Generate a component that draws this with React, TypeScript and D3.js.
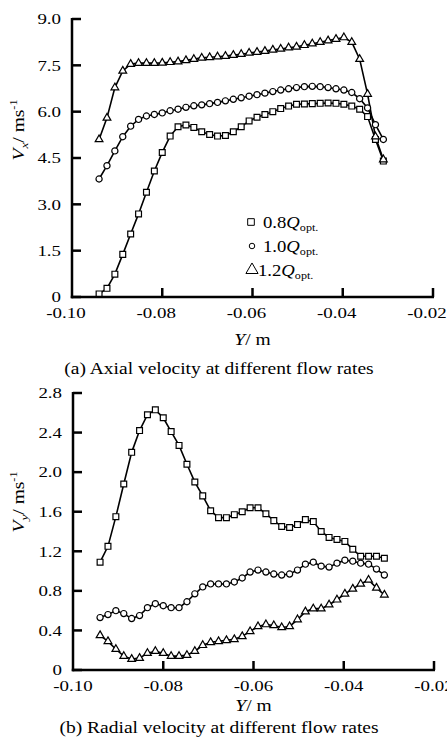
import React from 'react';
import * as d3 from 'd3';

// Radial position Y (m), shared by all series
const positionY = [
  -0.094, -0.09225, -0.0905, -0.08875, -0.087, -0.08525, -0.0835, -0.08175, -0.08, -0.07825,
  -0.0765, -0.07475, -0.073, -0.07125, -0.0695, -0.06775, -0.066, -0.06425, -0.0625, -0.06075,
  -0.059, -0.05725, -0.0555, -0.05375, -0.052, -0.05025, -0.0485, -0.04675, -0.045, -0.04325,
  -0.0415, -0.03975, -0.038, -0.03625, -0.0345, -0.03275, -0.031,
];

// (a) Axial velocity Vx (m/s)
const axial08 = [
  0.1, 0.28, 0.74, 1.38, 2.04, 2.69, 3.39, 4.08, 4.68, 5.21,
  5.51, 5.57, 5.49, 5.35, 5.26, 5.21, 5.23, 5.35, 5.51, 5.7,
  5.82, 5.91, 6.0, 6.1, 6.18, 6.24, 6.25, 6.26, 6.27, 6.28,
  6.27, 6.24, 6.18, 6.08, 5.84, 5.1, 4.4,
];
const axial10 = [
  3.82, 4.25, 4.73, 5.19, 5.53, 5.75, 5.86, 5.91, 5.96, 6.03,
  6.08, 6.14, 6.19, 6.22, 6.26, 6.3, 6.35, 6.4, 6.45, 6.5,
  6.55, 6.6, 6.65, 6.7, 6.74, 6.78, 6.81, 6.82, 6.81, 6.78,
  6.74, 6.7, 6.62, 6.42, 6.12, 5.58, 5.1,
];
const axial12 = [
  5.1, 5.8, 6.78, 7.32, 7.54, 7.57, 7.57, 7.57, 7.58, 7.6,
  7.62, 7.66, 7.7, 7.74, 7.76, 7.78, 7.8, 7.83, 7.86, 7.9,
  7.93, 7.96, 8.0, 8.03, 8.07, 8.1, 8.15, 8.2, 8.25, 8.3,
  8.35, 8.4, 8.25, 7.7, 6.57, 5.19, 4.45,
];

// (b) Radial velocity (m/s)
const radial08 = [
  1.09, 1.25, 1.55, 1.88, 2.2, 2.42, 2.58, 2.63, 2.55, 2.41,
  2.27, 2.08, 1.9, 1.76, 1.61, 1.54, 1.54, 1.57, 1.6, 1.64,
  1.64, 1.58, 1.51, 1.45, 1.44, 1.47, 1.52, 1.5, 1.4, 1.34,
  1.32, 1.3, 1.22, 1.15, 1.15, 1.15, 1.13,
];
const radial10 = [
  0.53, 0.56, 0.6, 0.57, 0.52, 0.55, 0.63, 0.67, 0.65, 0.63,
  0.63, 0.69, 0.77, 0.84, 0.87, 0.87, 0.87, 0.89, 0.93, 0.99,
  1.01, 0.99, 0.97, 0.96, 0.97, 1.01, 1.07, 1.09, 1.05, 1.04,
  1.08, 1.11, 1.1, 1.08, 1.07, 1.02, 0.96,
];
const radial12 = [
  0.35, 0.29, 0.21, 0.14, 0.11, 0.12, 0.17, 0.19, 0.17, 0.14,
  0.14, 0.15, 0.19, 0.25, 0.28, 0.29, 0.3, 0.31, 0.34, 0.39,
  0.44, 0.46, 0.45, 0.43, 0.44, 0.51, 0.59, 0.62, 0.62, 0.66,
  0.71, 0.77, 0.82, 0.87, 0.91, 0.83, 0.76,
];

const xTicks = [-0.1, -0.08, -0.06, -0.04, -0.02];
const xTickLabels = ['-0.10', '-0.08', '-0.06', '-0.04', '-0.02'];
const axialTicks = [0, 1.5, 3.0, 4.5, 6.0, 7.5, 9.0];
const axialTickLabels = ['0', '1.5', '3.0', '4.5', '6.0', '7.5', '9.0'];
const radialTicks = [0, 0.4, 0.8, 1.2, 1.6, 2.0, 2.4, 2.8];
const radialTickLabels = ['0', '0.4', '0.8', '1.2', '1.6', '2.0', '2.4', '2.8'];
const legendLabels = ['0.8', '1.0', '1.2'];
const symbolTypes = [d3.symbolSquare, d3.symbolCircle, d3.symbolTriangle];
const symbolSizes = [34, 30, 26];

const FONT = "'Liberation Serif', 'Times New Roman', serif";
const SX = 1.22;

function T(props: {
  x: number;
  y: number;
  anchor?: string;
  size?: number;
  rotate?: boolean;
  sx?: number;
  children: React.ReactNode;
}) {
  const { x, y, anchor = 'start', size = 16, rotate = false, sx = SX, children } = props;
  return (
    <text
      transform={`translate(${x},${y})${rotate ? ' rotate(-90)' : ''} scale(${sx},1)`}
      textAnchor={anchor}
      fontSize={size}
      fontFamily={FONT}
      fill="#000"
    >
      {children}
    </text>
  );
}

type PanelProps = {
  series: number[][];
  yMax: number;
  yTicks: number[];
  yTickLabels: string[];
  left: number;
  right: number;
  top: number;
  bottom: number;
  sub: string;
  caption: string;
  titleY: number;
  offs: [number, number, number];
  labelDx: number;
  legend?: boolean;
};

function Panel(p: PanelProps) {
  const x = d3.scaleLinear().domain([-0.1, -0.02]).range([p.left, p.right]);
  const y = d3.scaleLinear().domain([0, p.yMax]).range([p.bottom, p.top]);
  const line = d3.line<[number, number]>().x((d) => x(d[0])).y((d) => y(d[1]));
  const sym = (i: number) => d3.symbol(symbolTypes[i], symbolSizes[i])() as string;
  const cx = (p.left + p.right) / 2;
  return (
    <g>
      {p.series.map((s, i) => (
        <path key={'l' + i} d={line(s.map((v, j) => [positionY[j], v]))!} fill="none" stroke="#000" strokeWidth={1.6} />
      ))}
      {p.series.map((s, i) => (
        <g key={'m' + i}>
          {s.map((v, j) => (
            <path key={j} d={sym(i)} transform={`translate(${x(positionY[j])},${y(v)})`} fill="#fff" stroke="#000" strokeWidth={1.2} />
          ))}
        </g>
      ))}
      <line x1={p.left} x2={p.left} y1={p.top - 1} y2={p.bottom + 1.25} stroke="#000" strokeWidth={2.5} />
      <line x1={p.left - 1.25} x2={p.right + 1} y1={p.bottom} y2={p.bottom} stroke="#000" strokeWidth={2.5} />
      {p.yTicks.map((t, i) => (
        <g key={'yt' + i}>
          <line x1={p.left} x2={p.left + 9} y1={y(t)} y2={y(t)} stroke="#000" strokeWidth={2.5} />
          <T x={p.left - 11} y={y(t) + 5.3} anchor="end" size={15.5}>{p.yTickLabels[i]}</T>
        </g>
      ))}
      {xTicks.map((t, i) => (
        <g key={'xt' + i}>
          {i > 0 && <line x1={x(t)} x2={x(t)} y1={p.bottom} y2={p.bottom - 9} stroke="#000" strokeWidth={2.5} />}
          <T x={x(t) + p.labelDx} y={p.bottom + p.offs[0]} anchor="middle" size={15.5}>{xTickLabels[i]}</T>
        </g>
      ))}
      <T x={cx} y={p.bottom + p.offs[1]} anchor="middle" size={16}>
        <tspan fontStyle="italic">Y</tspan>/ m
      </T>
      <T x={219} y={p.bottom + p.offs[2]} anchor="middle" size={16}>{p.caption}</T>
      <T x={24} y={p.titleY} anchor="middle" size={16} rotate>
        <tspan fontStyle="italic">V</tspan>
        <tspan fontStyle="italic" fontSize={11} dy={4}>{p.sub}</tspan>
        <tspan dy={-4}>/ ms</tspan>
        <tspan fontSize={10} dy={-7}>-1</tspan>
      </T>
      {p.legend &&
        legendLabels.map((lab, i) => {
          const ly = 222 + i * 24;
          return (
            <g key={'lg' + i}>
              <path d={d3.symbol(symbolTypes[i], [44, 24, 64][i])() as string} transform={`translate(${[251, 252, 252][i]},${ly})`} fill="#fff" stroke="#000" strokeWidth={1} />
              <T x={i === 2 ? 258 : 263} y={ly + 6} size={17} sx={1.1}>
                {lab}
                <tspan fontStyle="italic">Q</tspan>
                <tspan fontSize={11} dy={3}>opt.</tspan>
              </T>
            </g>
          );
        })}
    </g>
  );
}

export default function App() {
  return (
    <svg width={447} height={749} style={{ position: 'absolute', left: 0, top: 0, background: '#fff' }}>
      <rect width={447} height={749} fill="#fff" />
      <Panel
        series={[axial08, axial10, axial12]}
        yMax={9}
        yTicks={axialTicks}
        yTickLabels={axialTickLabels}
        left={72}
        right={433}
        top={19}
        bottom={297}
        sub="x"
        caption="(a) Axial velocity at different flow rates"
        titleY={130}
        offs={[21, 48, 77]}
        labelDx={-6}
        legend
      />
      <Panel
        series={[radial08, radial10, radial12]}
        yMax={2.8}
        yTicks={radialTicks}
        yTickLabels={radialTickLabels}
        left={73}
        right={434}
        top={393}
        bottom={670}
        sub="y"
        caption="(b) Radial velocity at different flow rates"
        titleY={502}
        offs={[21, 41, 63]}
        labelDx={0}
      />
    </svg>
  );
}
